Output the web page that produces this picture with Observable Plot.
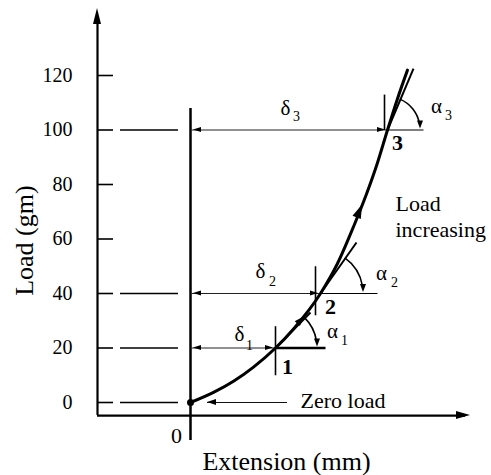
<!DOCTYPE html>
<html><head><meta charset="utf-8">
<script src="https://cdn.jsdelivr.net/npm/d3@7"></script>
<script src="https://cdn.jsdelivr.net/npm/@observablehq/plot@0.6"></script>
<style>body{margin:0;background:#fff} svg{display:block}</style>
</head><body><div id="chart"></div>
<script>
// ---- data ----
const loadTicks = [0, 20, 40, 60, 80, 100, 120];
const guideLoads = [0, 20, 40, 100];
const curveExt  = [0, 2.3, 4.3, 6.3, 8.5, 10.3, 13.0, 14.7, 16.3, 17.6, 18.7, 19.7, 20.7, 21.7];
const curveLoad = [0, 3.7, 7.8, 13.0, 20, 27.0, 40, 51, 64.5, 76.5, 88, 100, 111.5, 122];
const pointNames = ["1", "2", "3"];
const pointExt  = [8.5, 13.0, 19.7];
const pointLoad = [20, 40, 100];
const tangentExt  = [12.0, 16.6, 22.3];
const tangentLoad = [33.0, 58.7, 122.5];
const deltaSymbol = "δ";
const alphaSymbol = "α";
const xTickLabels = ["0"];
const yTitle = "Load (gm)";
const xTitle = "Extension (mm)";
const noteLines = ["Load", "increasing"];
const zeroNote = "Zero load";

// ---- layout (positions in data units) ----
const FONT = "'Liberation Serif', 'Times New Roman', serif";
const AX_X = -9.3, AX_Y = -4.8, AX_TOP = 144.6, AX_RIGHT = 28;
const hEnd = [13.5, 18.7, 23.3];
const hWidth = [2.5, 1.2, 1.2];
const tickX = [8.5, 12.5, 19.4];
const tickLo = [10.0, 32.0, 100.0], tickHi = [28, 50, 113.0];
const arcR = [42, 43, 33];
const numPos = [[9.7, 13.2], [14.0, 35.2], [20.7, 95.4]];
const deltaPos = [[4.9, 25.0], [7.0, 48.1], [9.5, 107.9]];
const deltaSub = [[5.9, 20.9], [8.2, 44.4], [10.6, 105.0]];
const alphaPos = [[14.2, 26.1], [19.1, 47.3], [24.6, 108.6]];
const alphaSub = [[15.4, 22.8], [20.4, 44.0], [25.8, 105.3]];

const curve = curveExt.map((x, i) => ({x, y: curveLoad[i]}));
const pts = pointExt.map((x, i) => ({i, x, y: pointLoad[i], name: pointNames[i], kx: tickX[i],
  tx: tangentExt[i], ty: tangentLoad[i], hx: hEnd[i], hw: hWidth[i], lo: tickLo[i], hi: tickHi[i]}));

const heads = [
  {x: AX_X, y: AX_TOP, fx: AX_X, fy: 0, len: 16, w: 4},
  {x: AX_RIGHT, y: AX_Y, fx: 0, fy: AX_Y, len: 14, w: 4},
  {x: 1.7, y: 0, fx: 9.7, fy: 0, len: 9, w: 3},
  {x: 11.4, y: 31.5, fx: 10.3, fy: 27.0, len: 10, w: 3.5},
  {x: 17.2, y: 72.5, fx: 16.3, fy: 64.5, len: 14, w: 4.5},
  ...pointExt.map((x, i) => ({x: 0.3, y: pointLoad[i], fx: 5, fy: pointLoad[i], len: 8, w: 2.5})),
  ...pointExt.map((x, i) => ({x: x - 0.2, y: pointLoad[i], fx: 0, fy: pointLoad[i], len: 8, w: 2.5}))
];

function arrowHeads(items) {
  return (index, scales) => {
    const g = d3.create("svg:g").attr("fill", "#000");
    for (const a of items) {
      const tx = scales.x(a.x), ty = scales.y(a.y), fx = scales.x(a.fx), fy = scales.y(a.fy);
      const dx = tx - fx, dy = ty - fy, L = Math.hypot(dx, dy), ux = dx / L, uy = dy / L;
      const bx = tx - ux * a.len, by = ty - uy * a.len, px = -uy, py = ux;
      g.append("path").attr("d", `M${tx},${ty}L${bx + px * a.w},${by + py * a.w}L${bx - px * a.w},${by - py * a.w}Z`);
    }
    return g.node();
  };
}

function angleArcs() {
  return (index, scales) => {
    const g = d3.create("svg:g");
    pts.forEach((p, i) => {
      const cx = scales.x(p.x), cy = scales.y(p.y);
      const ex = scales.x(p.tx), ey = scales.y(p.ty);
      const a = Math.atan2(cy - ey, ex - cx);
      const r = arcR[i];
      const e = 0.17;
      const sx = cx + r * Math.cos(a), sy = cy - r * Math.sin(a);
      const qx = cx + r * Math.cos(e), qy = cy - r * Math.sin(e);
      g.append("path").attr("d", `M${sx},${sy}A${r},${r} 0 0 1 ${qx},${qy}`)
        .attr("fill", "none").attr("stroke", "#000").attr("stroke-width", 1.6);
      const tx = cx + r, ty = cy - 1;
      g.append("path").attr("d", `M${tx},${ty}L${tx - 3},${ty - 8}L${tx + 3},${ty - 8}Z`).attr("fill", "#000");
    });
    return g.node();
  };
}

const txt = (arr, text, opts) => Plot.text(arr.map(([x, y], i) => ({x, y, t: typeof text === "function" ? text(i) : text})),
  {x: "x", y: "y", text: "t", fontFamily: FONT, fill: "#000", ...opts});

const chart = Plot.plot({
  width: 491, height: 475,
  x: {type: "linear", domain: [0, 10], range: [190, 290], axis: null},
  y: {type: "linear", domain: [0, 120], range: [402, 75], axis: null},
  style: {fontFamily: FONT, background: "#fff"},
  marks: [
    // axes
    Plot.ruleX([AX_X], {x: d => d, y1: AX_Y, y2: AX_TOP - 3, strokeWidth: 2.2}),
    Plot.ruleY([AX_Y], {y: d => d, x1: AX_X, x2: AX_RIGHT - 0.5, strokeWidth: 2.2}),
    Plot.ruleY(loadTicks, {y: d => d, x1: AX_X, x2: -7.7, strokeWidth: 1.6}),
    Plot.text(loadTicks, {x: -11.8, y: d => d, text: d => String(d), textAnchor: "end", fontSize: 20, fontFamily: FONT}),
    Plot.ruleY(guideLoads, {y: d => d, x1: -7.0, x2: -1.2, strokeWidth: 1.6}),
    // zero-extension line
    Plot.ruleX([0], {x: d => d, y1: -13.9, y2: 107.9, strokeWidth: 2.5}),
    // delta lines
    Plot.link(pts, {x1: 0, y1: "y", x2: "x", y2: "y", stroke: "#222", strokeWidth: 1}),
    Plot.link(pts, {x1: "x", y1: "y", x2: "hx", y2: "y", stroke: "#000", strokeWidth: "hw"}),
    Plot.link(pts, {x1: "kx", y1: "lo", x2: "kx", y2: "hi", stroke: "#000", strokeWidth: 1.6}),
    Plot.ruleY([0], {y: d => d, x1: 1.7, x2: 9.7, stroke: "#111", strokeWidth: 1}),
    // curve + tangents
    Plot.line(curve, {x: "x", y: "y", curve: "monotone-x", strokeWidth: 3, stroke: "#000"}),
    Plot.link(pts, {x1: "x", y1: "y", x2: "tx", y2: "ty", strokeWidth: 2, stroke: "#000"}),
    Plot.dot([curve[0]], {x: "x", y: "y", r: 3.5, fill: "#000"}),
    angleArcs(),
    arrowHeads(heads),
    // texts
    txt(numPos, i => pointNames[i], {fontSize: 22, fontWeight: "bold"}),
    txt(deltaPos, deltaSymbol, {fontSize: 21}),
    txt(deltaSub, i => pointNames[i], {fontSize: 14}),
    txt(alphaPos, alphaSymbol, {fontSize: 21}),
    txt(alphaSub, i => pointNames[i], {fontSize: 14}),
    txt([[20.5, 73.0], [20.5, 63.5]], i => noteLines[i], {fontSize: 22, textAnchor: "start"}),
    txt([[11.0, 0.7]], zeroNote, {fontSize: 22, textAnchor: "start"}),
    txt([[-1.4, -12.1]], xTickLabels[0], {fontSize: 22}),
    txt([[9.6, -21.7]], xTitle, {fontSize: 26}),
    txt([[-16.6, 59.4]], yTitle, {fontSize: 26, rotate: -90})
  ]
});
document.getElementById("chart").appendChild(chart);
</script>
</body></html>
